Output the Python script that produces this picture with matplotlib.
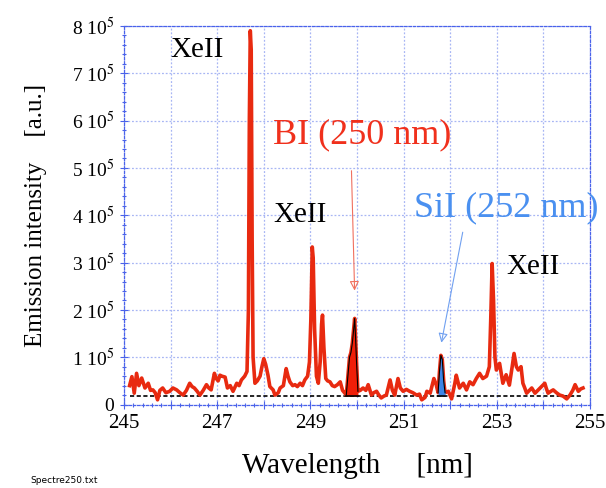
import matplotlib
matplotlib.use("Agg")
import matplotlib.pyplot as plt
import numpy as np

plt.rcParams['font.family'] = ['Liberation Serif', 'DejaVu Serif']
plt.rcParams['mathtext.fontset'] = 'stix'

wavelength = [
    245.12, 245.17, 245.22, 245.27, 245.32, 245.38, 245.45, 245.52, 245.57, 245.62,
    245.67, 245.72, 245.77, 245.83, 245.90, 245.98, 246.05, 246.13, 246.20, 246.27,
    246.34, 246.41, 246.46, 246.51, 246.57, 246.63, 246.70, 246.77, 246.82, 246.87,
    246.94, 246.98, 247.02, 247.06, 247.10, 247.17, 247.22, 247.28, 247.34, 247.42,
    247.47, 247.52, 247.59, 247.64, 247.67, 247.69, 247.71, 247.73, 247.75, 247.77,
    247.81, 247.86, 247.92, 247.96, 248.00, 248.04, 248.09, 248.13, 248.20, 248.24,
    248.31, 248.35, 248.42, 248.48, 248.52, 248.56, 248.62, 248.67, 248.72, 248.78,
    248.83, 248.88, 248.94, 248.98, 249.01, 249.04, 249.06, 249.09, 249.13, 249.17,
    249.21, 249.24, 249.26, 249.29, 249.33, 249.37, 249.42, 249.47, 249.52, 249.58,
    249.64, 249.69, 249.74, 249.77, 249.80, 249.84, 249.87, 249.90, 249.93, 249.95,
    249.97, 249.99, 250.02, 250.07, 250.13, 250.19, 250.24, 250.31, 250.36, 250.42,
    250.47, 250.52, 250.58, 250.63, 250.71, 250.76, 250.81, 250.88, 250.93, 250.99,
    251.06, 251.13, 251.20, 251.28, 251.34, 251.39, 251.46, 251.50, 251.57, 251.65,
    251.70, 251.74, 251.77, 251.80, 251.83, 251.86, 251.89, 251.96, 252.03, 252.10,
    252.13, 252.20, 252.28, 252.35, 252.42, 252.49, 252.56, 252.63, 252.70, 252.78,
    252.84, 252.87, 252.90, 252.93, 252.96, 252.99, 253.06, 253.13, 253.20, 253.27,
    253.33, 253.37, 253.42, 253.46, 253.52, 253.56, 253.60, 253.64, 253.70, 253.75,
    253.82, 253.88, 253.93, 254.03, 254.06, 254.10, 254.16, 254.21, 254.28, 254.35,
    254.42, 254.50, 254.57, 254.63, 254.68, 254.75, 254.80, 254.85,
]
intensity_1e5 = [
    0.40, 0.59, 0.24, 0.66, 0.40, 0.56, 0.35, 0.45, 0.30, 0.31,
    0.25, 0.10, 0.30, 0.35, 0.25, 0.28, 0.35, 0.31, 0.25, 0.20,
    0.30, 0.45, 0.38, 0.35, 0.28, 0.20, 0.30, 0.42, 0.35, 0.31,
    0.66, 0.55, 0.50, 0.62, 0.60, 0.58, 0.35, 0.40, 0.28, 0.45,
    0.40, 0.52, 0.60, 0.70, 2.00, 6.00, 7.90, 7.50, 3.50, 1.00,
    0.45, 0.50, 0.60, 0.80, 0.97, 0.85, 0.62, 0.38, 0.31, 0.20,
    0.25, 0.35, 0.40, 0.76, 0.60, 0.48, 0.40, 0.42, 0.38, 0.45,
    0.40, 0.52, 0.60, 0.90, 1.80, 3.33, 3.10, 1.60, 0.60, 0.45,
    0.90, 1.70, 1.89, 1.20, 0.55, 0.50, 0.48, 0.40, 0.38, 0.42,
    0.48, 0.30, 0.24, 0.20, 0.55, 1.00, 1.10, 1.30, 1.60, 1.82,
    1.40, 0.90, 0.28, 0.30, 0.35, 0.30, 0.42, 0.20, 0.25, 0.28,
    0.20, 0.14, 0.18, 0.20, 0.52, 0.30, 0.20, 0.55, 0.35, 0.28,
    0.32, 0.28, 0.25, 0.20, 0.22, 0.10, 0.15, 0.28, 0.24, 0.55,
    0.42, 0.25, 0.70, 1.04, 0.95, 0.50, 0.25, 0.28, 0.12, 0.45,
    0.62, 0.35, 0.45, 0.31, 0.48, 0.42, 0.55, 0.66, 0.55, 0.60,
    0.80, 1.80, 2.98, 2.20, 1.00, 0.73, 0.87, 0.45, 0.63, 0.41,
    0.80, 1.08, 0.80, 0.73, 0.80, 0.45, 0.35, 0.24, 0.30, 0.35,
    0.24, 0.30, 0.35, 0.45, 0.35, 0.24, 0.28, 0.31, 0.25, 0.20,
    0.18, 0.12, 0.20, 0.30, 0.42, 0.28, 0.33, 0.35,
]
baseline_1e5 = 0.18
bi_range = (249.77, 250.02)
si_range = (251.74, 251.89)

x_ticks = [245, 246, 247, 248, 249, 250, 251, 252, 253, 254, 255]
x_ticklabels = ["245", "", "247", "", "249", "", "251", "", "253", "", "255"]
y_ticks = [0, 1, 2, 3, 4, 5, 6, 7, 8]
y_ticklabels = ["0"] + [f"{v} 10$^{{5}}$" for v in y_ticks[1:]]

wl = np.array(wavelength)
inten = np.array(intensity_1e5)

fig = plt.figure(figsize=(6.06, 4.88), dpi=100)
ax = fig.add_axes([0.2046, 0.171, 0.769, 0.7757])

grid_c = '#a8b6f4'
spine_c = '#4a62ea'

ax.set_xlim(245, 255)
ax.set_ylim(0, 8)
ax.set_xticks(x_ticks)
ax.set_xticklabels(x_ticklabels, fontsize=15)
ax.set_yticks(y_ticks)
ax.set_yticklabels(y_ticklabels, fontsize=14)
ax.set_xticks(np.arange(245, 255.01, 0.2), minor=True)
ax.set_yticks(np.arange(0, 8.01, 0.2), minor=True)
ax.tick_params(which='both', direction='inout', color=spine_c, width=0.8)
ax.tick_params(which='major', length=6, pad=4)
ax.tick_params(which='minor', length=3)
ax.grid(True, which='major', color=grid_c, linestyle=(0, (1.5, 1.5)), linewidth=0.9)
for s in ax.spines.values():
    s.set_color(spine_c)
    s.set_linestyle((0, (2, 1.5)))
    s.set_linewidth(0.9)

# baseline
ax.plot([wl[0], wl[-1]], [baseline_1e5, baseline_1e5], color='black',
        linestyle=(0, (2.5, 1.5)), linewidth=1.2, zorder=3)

# spectrum
ax.plot(wl, inten, color='#e82a10', linewidth=2.6, zorder=4, solid_joinstyle='round')

# filled peaks
mb = (wl >= bi_range[0]) & (wl <= bi_range[1])
ax.fill_between(wl[mb], baseline_1e5, inten[mb], color='#f01e08', linewidth=0, zorder=5)
ax.plot(wl[mb], inten[mb], color='black', linewidth=0.8, zorder=6)
ax.plot([bi_range[0], bi_range[1]], [baseline_1e5, baseline_1e5], color='black',
        linewidth=1.2, zorder=6)
ms = (wl >= si_range[0]) & (wl <= si_range[1])
ax.fill_between(wl[ms], baseline_1e5, inten[ms], color='#3d85e6', linewidth=0, zorder=5)
ax.plot(wl[ms], inten[ms], color='black', linewidth=0.8, zorder=6)
ax.plot([si_range[0], si_range[1]], [baseline_1e5, baseline_1e5], color='black',
        linewidth=1.2, zorder=6)

# labels
ax.text(246.56, 7.5, "XeII", fontsize=21, color='black', ha='center', va='center')
ax.text(248.78, 4.0, "XeII", fontsize=21, color='black', ha='center', va='center')
ax.text(253.78, 2.9, "XeII", fontsize=21, color='black', ha='center', va='center')
ax.text(250.12, 5.7, "BI (250 nm)", fontsize=26, color='#f0301c', ha='center', va='center')
ax.text(253.2, 4.15, "SiI (252 nm)", fontsize=26, color='#4a90f0', ha='center', va='center',
        clip_on=False)

ax.annotate("", xy=(249.95, 2.35), xytext=(249.88, 5.0),
            arrowprops=dict(arrowstyle='-|>', color='#f07060', lw=0.8,
                            fill=False, mutation_scale=14))
ax.annotate("", xy=(251.8, 1.25), xytext=(252.28, 3.7),
            arrowprops=dict(arrowstyle='-|>', color='#70a0f0', lw=0.8,
                            fill=False, mutation_scale=14))

ax.set_xlabel("Wavelength     [nm]", fontsize=21, labelpad=14)
ax.set_ylabel("Emission intensity    [a.u.]", fontsize=18, labelpad=18)

fig.text(0.05, 0.011, "Spectre250.txt", fontsize=6.5, family='DejaVu Sans')

fig.savefig("out.png", dpi=100)
